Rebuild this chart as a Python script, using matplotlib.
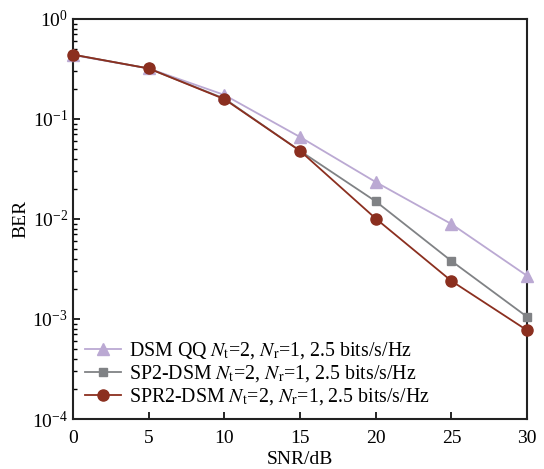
import matplotlib
matplotlib.use('Agg')
import matplotlib.pyplot as plt
import numpy as np

# Data
snr = [0, 5, 10, 15, 20, 25, 30]
ber_dsm_qq = [0.436, 0.32, 0.174, 0.066, 0.0234, 0.0089, 0.0027]
ber_sp2 = [0.44, 0.32, 0.16, 0.048, 0.015, 0.0038, 0.00105]
ber_spr2 = [0.44, 0.32, 0.158, 0.048, 0.0101, 0.0024, 0.00077]

labels = [r'DSM QQ $N_{\mathrm{t}}$=2, $N_{\mathrm{r}}$=1, 2.5 bits/s/Hz',
          r'SP2-DSM $N_{\mathrm{t}}$=2, $N_{\mathrm{r}}$=1, 2.5 bits/s/Hz',
          r'SPR2-DSM $N_{\mathrm{t}}$=2, $N_{\mathrm{r}}$=1, 2.5 bits/s/Hz']

plt.rcParams['font.family'] = ['Liberation Serif', 'DejaVu Serif']
plt.rcParams['mathtext.fontset'] = 'stix'

fig = plt.figure(figsize=(5.44, 4.69), dpi=100)
ax = fig.add_axes([0.134, 0.1066, 0.835, 0.853])

ax.plot(snr, ber_dsm_qq, color='#bba9d3', marker='^', markersize=8, lw=1.3,
        label=labels[0], clip_on=False, zorder=3)
ax.plot(snr, ber_sp2, color='#808285', marker='s', markersize=6, lw=1.3,
        label=labels[1], clip_on=False, zorder=4)
ax.plot(snr, ber_spr2, color='#8b2f1f', marker='o', markersize=8, lw=1.3,
        label=labels[2], clip_on=False, zorder=5)

ax.set_yscale('log')
ax.set_xlim(0, 30)
ax.set_ylim(1e-4, 1)
ax.set_xticks([0, 5, 10, 15, 20, 25, 30])
ax.tick_params(axis='both', which='both', direction='in', labelsize=14,
               top=False, right=False)
ax.tick_params(axis='both', which='major', length=5, width=1.2)
ax.tick_params(axis='x', which='major', pad=8)
ax.tick_params(axis='y', which='minor', length=3, width=1)
for s in ax.spines.values():
    s.set_linewidth(1.5)
    s.set_color('#222222')

ax.set_xlabel('SNR/dB', fontsize=14, labelpad=3)
ax.set_ylabel('BER', fontsize=14, labelpad=2)

ax.legend(loc='lower left', frameon=False, fontsize=14.3, handlelength=1.8,
          borderaxespad=0.2, labelspacing=0.1, handletextpad=0.4)

fig.savefig('out.png', dpi=100)
